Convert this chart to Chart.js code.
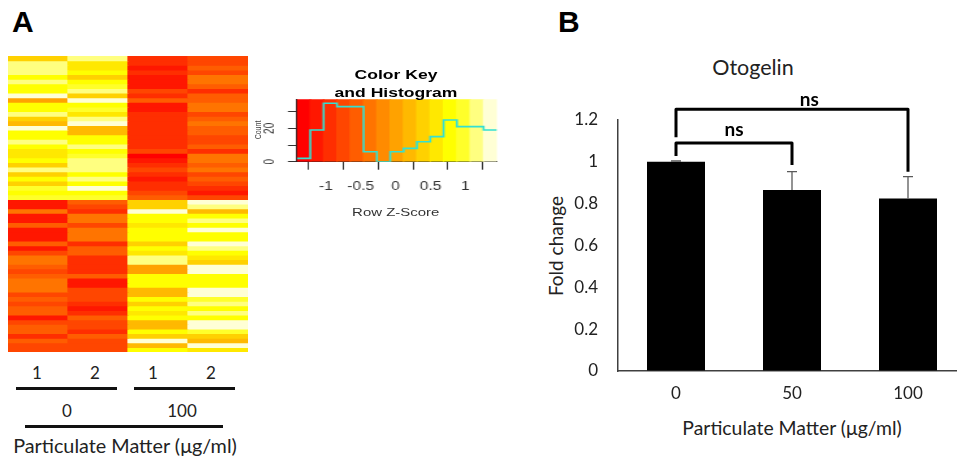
<!DOCTYPE html>
<html>
<head>
<meta charset="utf-8">
<script src="https://cdn.jsdelivr.net/npm/chart.js@4.4.0/dist/chart.umd.min.js"></script>
<style>
    html, body { margin: 0; padding: 0; background: #fff; width: 957px; height: 456px; overflow: hidden; }
    body { position: relative; font-family: Lato, "Open Sans", sans-serif; color: #222; }
    .box { position: absolute; }
    .t { position: absolute; white-space: nowrap; transform: translate(-50%, -50%); font-size: 17px; line-height: 1; }
    .rule { position: absolute; height: 3px; background: #111; }
    .panel { position: absolute; font: bold 30px "Liberation Sans", Arial, sans-serif; color: #000; line-height: 1; }
    .r { font-family: "Liberation Sans", Arial, sans-serif; }
</style>
</head>
<body>

<div class="panel" style="left:12px; top:7px;">A</div>
<div class="panel" style="left:558px; top:7px;">B</div>

<!-- heatmap -->
<div class="box" style="left:8px; top:55.7px; width:240px; height:296px;">
    <canvas id="heatChart"></canvas>
</div>

<div class="t" style="left:37px; top:372px;">1</div>
<div class="t" style="left:95px; top:372px;">2</div>
<div class="t" style="left:153px; top:372px;">1</div>
<div class="t" style="left:211px; top:372px;">2</div>
<div class="rule" style="left:16px; top:387px; width:101px;"></div>
<div class="rule" style="left:134px; top:387px; width:101px;"></div>
<div class="t" style="left:67px; top:410px;">0</div>
<div class="t" style="left:182px; top:410px;">100</div>
<div class="rule" style="left:25px; top:425px; width:198px;"></div>
<div class="t" style="left:125px; top:446px; font-size:19.8px;">Particulate Matter (μg/ml)</div>

<!-- color key (R draws it stretched sideways) -->
<div class="box" style="left:240px; top:60px; width:200px; height:140px; transform:scaleX(1.3); transform-origin:0 0;">
    <canvas id="keyChart"></canvas>
    <div class="t r" style="left:120px; top:15px; font-size:13.5px; font-weight:bold; color:#000;">Color Key</div>
    <div class="t r" style="left:120px; top:33px; font-size:13.5px; font-weight:bold; color:#000;">and Histogram</div>
    <div class="t r" style="left:14.4px; top:70px; font-size:7px; color:#444; transform:translate(-50%,-50%) rotate(-90deg);">Count</div>
    <div class="t r" style="left:119.8px; top:153px; font-size:11.5px; color:#333;">Row Z-Score</div>
</div>

<!-- bar chart -->
<div class="t" style="left:753px; top:68px; font-size:21.5px;">Otogelin</div>
<div class="t" style="left:555px; top:246px; font-size:19px; transform:translate(-50%,-50%) rotate(-90deg);">Fold change</div>
<div class="t" style="left:792px; top:428px; font-size:19.4px;">Particulate Matter (μg/ml)</div>
<div class="box" style="left:560px; top:80px; width:406px; height:331px;">
    <canvas id="barChart"></canvas>
</div>

<script>
// heatmap: row z-scores, one array per column (64 genes)
const replicateLabels = ['1', '2', '1', '2'];
const doseGroups = ['0', '100'];

const dose0Rep1 = [
    0.40, 1.16, 1.16, 1.16, 0.78, 1.16, 0.78, 0.78, 1.36, 0.02, 0.78, 0.78, 1.16, 0.40, 0.21, 1.36,
    0.78, 0.78, 1.16, 0.78, 0.59, 0.59, 0.78, 0.40, 1.16, 0.40, 0.78, 0.40, 0.97, 0.78, 0.97, -1.13,
    -1.13, -0.36, -1.13, -1.13, -0.55, -1.13, -1.13, -1.13, -0.55, -1.13, -0.75, -0.36, -0.36, -0.55, -0.75, -0.55,
    -0.36, -0.36, -0.36, -0.75, -0.55, -0.75, -0.55, -0.55, -1.13, -0.75, -0.55, -0.55, -0.94, -0.55, -0.75, -0.75
];
const dose0Rep2 = [
    1.16, 0.59, 0.59, 0.78, 0.40, 0.78, 0.97, 1.16, 0.40, 1.36, 0.78, 0.97, 0.59, 1.16, 1.36, 0.21,
    0.21, 0.78, 0.78, 1.16, 0.78, 0.97, 1.16, 1.16, 1.16, 0.78, 1.16, 0.78, 1.36, 0.78, 0.97, -0.55,
    -0.75, -0.94, -0.36, -0.36, -0.75, -0.36, -0.36, -0.36, -0.94, -0.55, -0.55, -0.94, -0.94, -0.94, -0.94, -0.55,
    -1.13, -1.13, -0.75, -0.75, -0.75, -0.94, -1.13, -0.94, -0.55, -0.75, -0.75, -0.94, -0.55, -0.75, -0.75, -0.75
];
const dose100Rep1 = [
    -0.94, -0.94, -1.13, -0.94, -1.13, -1.13, -1.13, -0.75, -0.94, -0.55, -1.13, -1.13, -0.94, -0.94, -0.94, -0.94,
    -0.94, -0.94, -0.94, -0.94, -0.75, -1.32, -1.13, -0.94, -0.75, -0.94, -1.13, -0.94, -0.94, -0.75, -0.55, 0.40,
    0.40, 1.36, 0.78, 0.78, 0.59, 0.78, 0.78, 0.78, 0.40, 0.78, 0.59, 1.16, 1.16, 0.02, 0.02, 0.78,
    0.78, 0.78, 0.21, 0.21, 0.78, 0.40, 0.78, 0.59, 0.78, 0.21, 0.21, 0.78, 0.40, 1.36, 0.21, 0.78
];
const dose100Rep2 = [
    -0.75, -0.75, -0.55, -0.75, -0.36, -0.36, -0.55, -0.94, -0.55, -0.55, -0.36, -0.36, -0.75, -0.55, -0.36, -0.55,
    -0.55, -0.75, -0.75, -0.55, -0.94, -0.36, -0.36, -0.55, -0.36, -0.75, -0.55, -0.75, -0.94, -1.13, -0.75, 1.36,
    1.16, 0.21, 0.78, 1.16, 0.78, 1.36, 0.78, 0.78, 1.36, 1.16, 0.78, 0.59, 0.40, 1.36, 1.36, 0.78,
    0.78, 0.78, 1.36, 1.36, 0.97, 1.16, 0.78, 1.16, 0.78, 1.36, 1.36, 0.97, 0.40, 0.21, 1.36, 0.59
];

// colour key
const keyBreaks = [-1.414, -1.223, -1.032, -0.841, -0.650, -0.459, -0.268, -0.077,
                   0.114, 0.305, 0.496, 0.687, 0.878, 1.069, 1.260, 1.451];
const histCounts = [2, 19, 35, 33, 33, 6, 0, 6, 8, 12, 15, 25, 21, 21, 19];
const keyTicks = [-1, -0.5, 0, 0.5, 1];
const countTicks = [0, 5, 10, 15, 20, 25, 30, 35];
const countLabels = [0, 20];
const countTop = 37.4;

// bar chart
const doseLabels = ['0', '50', '100'];
const foldChange = [1.0, 0.865, 0.825];
const foldErr = [0.004, 0.088, 0.104];
const yTicks = [0, 0.2, 0.4, 0.6, 0.8, 1, 1.2];
const bracketPairs = [[0, 1], [0, 2]];
const bracketLevels = [1.09, 1.251];
const bracketLeftEnds = [1.028, 1.118];
const bracketRightEnds = [0.985, 0.953];
const bracketLabels = ['ns', 'ns'];
const bracketLabelX = [0.5, 1.15];
const bracketLabelY = [1.152, 1.295];

// heat.colors(15) of R
const heatPalette = ['#FF0000', '#FF1700', '#FF2E00', '#FF4600', '#FF5D00', '#FF7400', '#FF8B00', '#FFA200',
                     '#FFB900', '#FFD100', '#FFE800', '#FFFF00', '#FFFF2A', '#FFFF80', '#FFFFD5'];

Chart.defaults.animation = false;
Chart.defaults.plugins.legend.display = false;
Chart.defaults.plugins.tooltip.enabled = false;

function zColor(z) {
    for (let i = 0; i < heatPalette.length; i++) {
        if (z < keyBreaks[i + 1]) return heatPalette[i];
    }
    return heatPalette[heatPalette.length - 1];
}

// ---------- heatmap (stacked bars, one dataset per gene row)
const heatCols = [dose0Rep1, dose0Rep2, dose100Rep1, dose100Rep2];
const heatDatasets = dose0Rep1.map((_, r) => ({
    data: heatCols.map(() => 1),
    backgroundColor: heatCols.map(col => zColor(col[r])),
    borderWidth: 0,
    barPercentage: 1,
    categoryPercentage: 1,
    inflateAmount: 0.6
}));

new Chart(document.getElementById('heatChart'), {
    type: 'bar',
    data: { labels: replicateLabels, datasets: heatDatasets },
    options: {
        responsive: true,
        maintainAspectRatio: false,
        layout: { padding: 0 },
        scales: {
            x: { display: false, stacked: true },
            y: { display: false, stacked: true, min: 0, max: dose0Rep1.length, reverse: true }
        }
    }
});

// ---------- colour key + histogram
const bandBars = heatPalette.map((_, i) => ({ x: (keyBreaks[i] + keyBreaks[i + 1]) / 2, y: [0, countTop] }));
const histPoints = keyBreaks.map((b, i) => ({ x: b, y: histCounts[Math.min(i, histCounts.length - 1)] }));

const countLabelPlugin = {
    id: 'countLabels',
    afterDraw(chart) {
        const { ctx, scales: { y } } = chart;
        ctx.save();
        ctx.fillStyle = '#333';
        ctx.font = '10px "Liberation Sans", Arial, sans-serif';
        ctx.textAlign = 'center';
        ctx.textBaseline = 'middle';
        countLabels.forEach(v => {
            ctx.save();
            ctx.translate(23, y.getPixelForValue(v));
            ctx.rotate(-Math.PI / 2);
            ctx.fillText(String(v), 0, 0);
            ctx.restore();
        });
        ctx.restore();
    }
};

new Chart(document.getElementById('keyChart'), {
    data: {
        datasets: [
            {
                type: 'line',
                data: histPoints,
                borderColor: '#33e0d2',
                borderWidth: 1.6,
                pointRadius: 0,
                stepped: 'before',
                fill: false,
                order: 0
            },
            {
                type: 'bar',
                data: bandBars,
                backgroundColor: heatPalette,
                borderWidth: 0,
                barPercentage: 1,
                categoryPercentage: 1,
                inflateAmount: 0.6,
                order: 1
            }
        ]
    },
    options: {
        responsive: true,
        maintainAspectRatio: false,
        layout: { padding: { left: 0, top: 39.3, right: 2.4, bottom: 0 } },
        scales: {
            x: {
                type: 'linear',
                offset: false,
                min: keyBreaks[0],
                max: keyBreaks[keyBreaks.length - 1],
                afterBuildTicks: s => { s.ticks = keyTicks.map(v => ({ value: v })); },
                afterFit: s => { s.height = 38.3; },
                grid: { drawOnChartArea: false, drawTicks: true, tickLength: 8, color: '#333' },
                border: { display: true, color: '#222', width: 1 },
                ticks: {
                    callback: v => String(v),
                    color: '#333',
                    padding: 10,
                    maxRotation: 0,
                    font: { family: '"Liberation Sans", Arial, sans-serif', size: 12 }
                }
            },
            y: {
                min: 0,
                max: countTop,
                afterBuildTicks: s => { s.ticks = countTicks.map(v => ({ value: v })); },
                afterFit: s => { s.width = 43.8; },
                grid: { drawOnChartArea: false, drawTicks: true, tickLength: 7, color: '#333' },
                border: { display: true, color: '#222', width: 1 },
                ticks: { callback: () => '', padding: 0 }
            }
        }
    },
    plugins: [countLabelPlugin]
});

// ---------- fold change bars
const errorBarPlugin = {
    id: 'errorBars',
    afterDatasetsDraw(chart) {
        const { ctx, scales: { x, y } } = chart;
        ctx.save();
        ctx.strokeStyle = '#5a5a5a';
        ctx.lineWidth = 1.3;
        foldChange.forEach((v, i) => {
            const px = x.getPixelForValue(i);
            const top = y.getPixelForValue(v + foldErr[i]);
            ctx.beginPath();
            ctx.moveTo(px, y.getPixelForValue(v));
            ctx.lineTo(px, top);
            ctx.moveTo(px - 5, top);
            ctx.lineTo(px + 5, top);
            ctx.stroke();
        });
        ctx.restore();
    }
};

const bracketPlugin = {
    id: 'brackets',
    afterDraw(chart) {
        const { ctx, scales: { x, y } } = chart;
        ctx.save();
        ctx.strokeStyle = '#000';
        ctx.fillStyle = '#000';
        ctx.lineWidth = 3;
        ctx.lineJoin = 'round';
        ctx.font = 'bold 19px Lato, sans-serif';
        ctx.textAlign = 'center';
        ctx.textBaseline = 'middle';
        bracketPairs.forEach(([a, b], i) => {
            const xa = x.getPixelForValue(a);
            const xb = x.getPixelForValue(b);
            const yl = y.getPixelForValue(bracketLevels[i]);
            ctx.beginPath();
            ctx.moveTo(xa, y.getPixelForValue(bracketLeftEnds[i]));
            ctx.lineTo(xa, yl);
            ctx.lineTo(xb, yl);
            ctx.lineTo(xb, y.getPixelForValue(bracketRightEnds[i]));
            ctx.stroke();
            ctx.fillText(bracketLabels[i], x.getPixelForValue(bracketLabelX[i]), y.getPixelForValue(bracketLabelY[i]));
        });
        ctx.restore();
    }
};

new Chart(document.getElementById('barChart'), {
    type: 'bar',
    data: {
        labels: doseLabels,
        datasets: [{
            data: foldChange,
            backgroundColor: '#000',
            borderWidth: 0,
            barPercentage: 0.5,
            categoryPercentage: 1
        }]
    },
    options: {
        responsive: true,
        maintainAspectRatio: false,
        layout: { padding: { left: 0, top: 40, right: 0, bottom: 0 } },
        scales: {
            x: {
                afterFit: s => { s.height = 40; },
                grid: { drawOnChartArea: false, drawTicks: false },
                border: { display: true, color: '#404040', width: 1.5 },
                ticks: { color: '#222', padding: 12, font: { family: 'Lato', size: 17 } }
            },
            y: {
                min: 0,
                max: 1.2,
                afterBuildTicks: s => { s.ticks = yTicks.map(v => ({ value: v })); },
                afterFit: s => { s.width = 58; },
                grid: { drawOnChartArea: false, drawTicks: false },
                border: { display: true, color: '#404040', width: 1.5 },
                ticks: {
                    callback: v => String(+v.toFixed(1)),
                    color: '#222',
                    padding: 20,
                    font: { family: 'Lato', size: 17 }
                }
            }
        }
    },
    plugins: [errorBarPlugin, bracketPlugin]
});
</script>
</body>
</html>
